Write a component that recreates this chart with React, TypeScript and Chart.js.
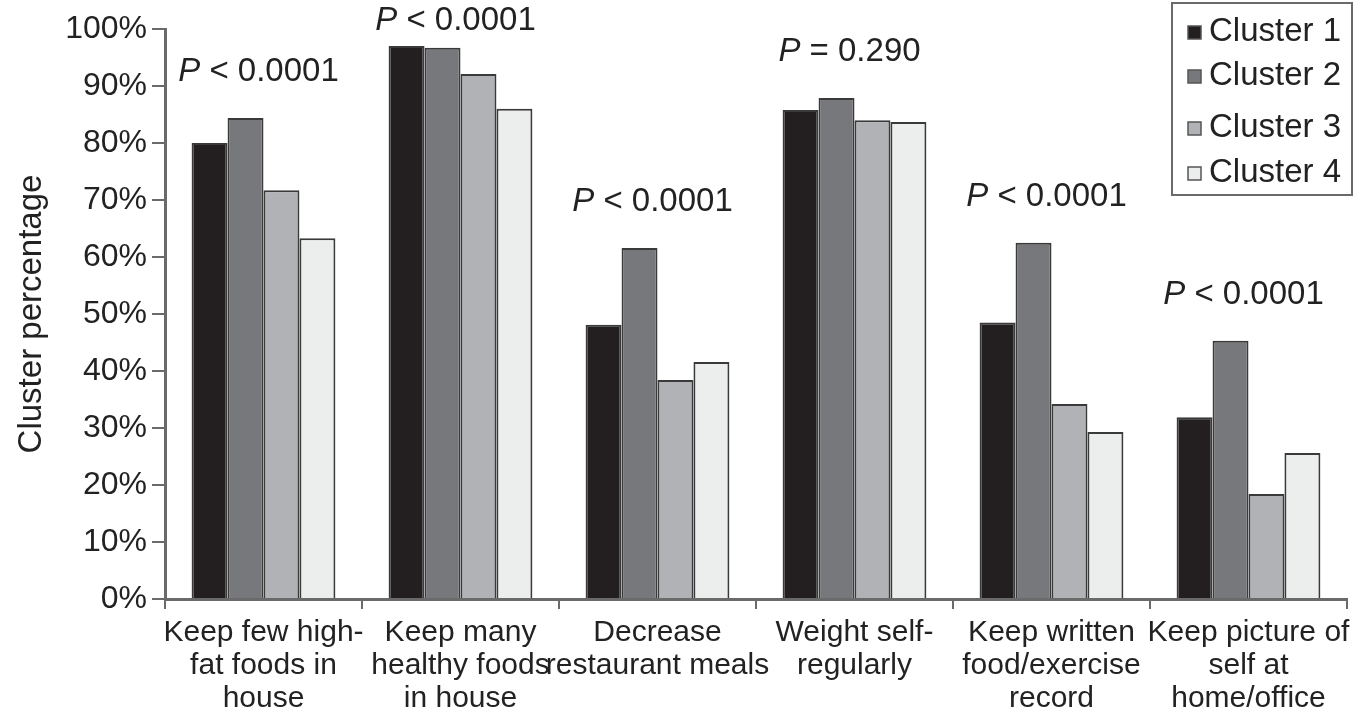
import React, { useEffect, useRef } from "react";
import { Chart, registerables } from "chart.js";

Chart.register(...registerables);

const categories: string[][] = [
  ["Keep few high-", "fat foods in", "house"],
  ["Keep many", "healthy foods", "in house"],
  ["Decrease", "restaurant meals"],
  ["Weight self-", "regularly"],
  ["Keep written", "food/exercise", "record"],
  ["Keep picture of", "self at", "home/office"],
];

const seriesNames = ["Cluster 1", "Cluster 2", "Cluster 3", "Cluster 4"];
const cluster1 = [80.0, 97.0, 48.1, 85.8, 48.5, 31.9];
const cluster2 = [84.4, 96.7, 61.6, 87.9, 62.5, 45.3];
const cluster3 = [71.7, 92.1, 38.4, 84.0, 34.2, 18.4];
const cluster4 = [63.3, 86.0, 41.6, 83.7, 29.3, 25.6];
const pOperators = ["<", "<", "<", "=", "<", "<"];
const pValues = ["0.0001", "0.0001", "0.0001", "0.290", "0.0001", "0.0001"];
const yTicks = [0, 10, 20, 30, 40, 50, 60, 70, 80, 90, 100];

const fillColors = ["#231f20", "#77787b", "#b1b2b5", "#eceeed"];
const FONT = '"Liberation Sans", Arial, Helvetica, sans-serif';
const AXIS = "#6a6a6a";

const pLabelPlugin = {
  id: "pLabels",
  afterDatasetsDraw(chart: any) {
    const ctx = chart.ctx;
    const x = chart.scales.x;
    const y = chart.scales.y;
    ctx.save();
    ctx.fillStyle = "#222";
    ctx.textBaseline = "middle";
    pValues.forEach((pv, i) => {
      const max = Math.max(...chart.data.datasets.map((d: any) => d.data[i]));
      let cy = y.getPixelForValue(max) - 46;
      if (cy < 21) cy = 21;
      const cx = x.getPixelForValue(i) - 5;
      const italic = `italic 33px ${FONT}`;
      const normal = `33px ${FONT}`;
      ctx.font = italic;
      const wP = ctx.measureText("P").width;
      ctx.font = normal;
      const rest = ` ${pOperators[i]} ${pv}`;
      const wR = ctx.measureText(rest).width;
      const start = cx - (wP + wR) / 2;
      ctx.textAlign = "left";
      ctx.font = italic;
      ctx.fillText("P", start, cy);
      ctx.font = normal;
      ctx.fillText(rest, start + wP, cy);
    });
    ctx.restore();
  },
};

const legendPlugin = {
  id: "boxLegend",
  afterDraw(chart: any) {
    const ctx = chart.ctx;
    const left = chart.width - 197;
    const top = 3;
    const w = 180;
    const h = 192;
    ctx.save();
    ctx.fillStyle = "#fff";
    ctx.fillRect(left, top, w, h);
    ctx.strokeStyle = "#6a6a6a";
    ctx.lineWidth = 2;
    ctx.strokeRect(left, top, w, h);
    ctx.textBaseline = "middle";
    ctx.textAlign = "left";
    ctx.font = `33px ${FONT}`;
    const rowsY = [32, 76, 128, 173];
    chart.data.datasets.forEach((d: any, i: number) => {
      const cy = rowsY[i];
      ctx.fillStyle = d.backgroundColor;
      ctx.fillRect(left + 16, cy - 6, 13, 13);
      ctx.strokeStyle = "#555";
      ctx.lineWidth = 1.5;
      ctx.strokeRect(left + 16, cy - 6, 13, 13);
      ctx.fillStyle = "#222";
      ctx.fillText(d.label, left + 37, cy);
    });
    ctx.restore();
  },
};

export default function App() {
  const ref = useRef<HTMLCanvasElement | null>(null);
  useEffect(() => {
    document.body.style.margin = "0";
    const values = [cluster1, cluster2, cluster3, cluster4];
    const chart = new Chart(ref.current as HTMLCanvasElement, {
      type: "bar",
      data: {
        labels: categories,
        datasets: seriesNames.map((name, i) => ({
          label: name,
          data: values[i],
          backgroundColor: fillColors[i],
          borderColor: "#3a3a3a",
          borderWidth: 2,
          borderSkipped: "bottom",
          categoryPercentage: 0.73,
          barPercentage: 1.0,
        })),
      },
      options: {
        responsive: false,
        animation: false,
        layout: { padding: { top: 29, right: 22, left: 0, bottom: 0 } },
        plugins: {
          legend: { display: false },
          tooltip: { enabled: false },
        },
        scales: {
          x: {
            afterFit(scale: any) {
              scale.height = 120;
            },
            grid: {
              display: true,
              drawOnChartArea: false,
              offset: true,
              tickLength: 10,
              color: AXIS,
              lineWidth: 2,
            },
            border: { display: true, color: AXIS, width: 3 },
            ticks: {
              color: "#222",
              font: { family: FONT, size: 30, lineHeight: 1.1 },
              padding: 7,
              maxRotation: 0,
              autoSkip: false,
            },
          },
          y: {
            min: 0,
            max: 100,
            afterFit(scale: any) {
              scale.width = 165;
            },
            afterBuildTicks(scale: any) {
              scale.ticks = yTicks.map((v) => ({ value: v }));
            },
            grid: {
              display: true,
              drawOnChartArea: false,
              tickLength: 13,
              color: AXIS,
              lineWidth: 2,
            },
            border: { display: true, color: AXIS, width: 3 },
            ticks: {
              color: "#222",
              font: { family: FONT, size: 32 },
              padding: 5,
              callback: (v: any) => `${v}%`,
            },
            title: {
              display: true,
              text: "Cluster percentage",
              color: "#222",
              font: { family: FONT, size: 33 },
              padding: { top: 12, bottom: 0 },
            },
          },
        },
      },
      plugins: [pLabelPlugin, legendPlugin],
    });
    return () => chart.destroy();
  }, []);
  return (
    <canvas
      ref={ref}
      width={1369}
      height={719}
      style={{ display: "block", width: 1369, height: 719, background: "#fff" }}
    />
  );
}
